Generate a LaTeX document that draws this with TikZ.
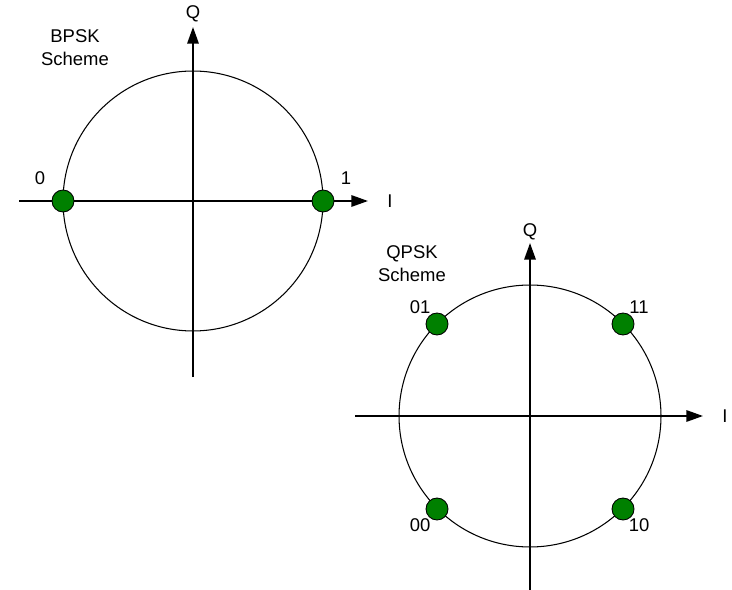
\documentclass[tikz,border=0pt]{standalone}
\usepackage{fontspec}
\setmainfont{Liberation Sans}
\usetikzlibrary{arrows.meta,positioning}
\definecolor{symgreen}{RGB}{0,128,0}

\begin{document}
\begin{tikzpicture}[x=0.02cm, y=-0.02cm,
  axis/.style={line width=1.1pt, -{Triangle[length=9.5pt, width=6.5pt]}},
  ring/.style={line width=0.6pt},
  symbol/.style={circle, draw=black, line width=0.5pt, fill=symgreen,
    minimum size=0.44cm, inner sep=0pt},
  lbl/.style={font=\fontsize{10.5}{13}\selectfont, inner sep=1pt},
  scheme/.style={lbl, align=center},
]
  \useasboundingbox (0,0) rectangle (732,590);

  % BPSK
  \coordinate (bc) at (193,201);
  \coordinate (bw) at (19,201);
  \coordinate (be) at (368,201);
  \coordinate (bs) at (193,377);
  \coordinate (bn) at (193,27);
  \draw[ring] (bc) circle[radius=2.6cm];
  \draw[axis] (bw) -- (be);
  \draw[axis] (bs) -- (bn);
  \node[lbl] (bI) at (390,201) {I};
  \node[lbl] (bQ) at (193,14) {Q};
  \node[scheme] (btitle) at (75,48) {BPSK\\Scheme};
  \node[symbol] (b0) at (63,201) {};
  \node[symbol] (b1) at (323,201) {};
  \node[lbl] (b0lbl) at (40,178) {0};
  \node[lbl] (b1lbl) at (346,178) {1};

  % QPSK
  \coordinate (qc) at (530,416);
  \coordinate (qw) at (355,416);
  \coordinate (qe) at (703,416);
  \coordinate (qs) at (530,590);
  \coordinate (qn) at (530,243);
  \draw[ring] (qc) circle[radius=2.62cm];
  \draw[axis] (qw) -- (qe);
  \draw[axis] (qs) -- (qn);
  \node[lbl] (qI) at (725,416) {I};
  \node[lbl] (qQ) at (530,232) {Q};
  \node[scheme] (qtitle) at (412,264) {QPSK\\Scheme};
  \node[symbol] (q01) at (437,324) {};
  \node[symbol] (q11) at (623,324) {};
  \node[symbol] (q00) at (437,509) {};
  \node[symbol] (q10) at (623,509) {};
  \node[lbl] (q01lbl) at (420,307) {01};
  \node[lbl] (q11lbl) at (639,307) {11};
  \node[lbl] (q00lbl) at (420,525) {00};
  \node[lbl] (q10lbl) at (639,525) {10};
\end{tikzpicture}
\end{document}
